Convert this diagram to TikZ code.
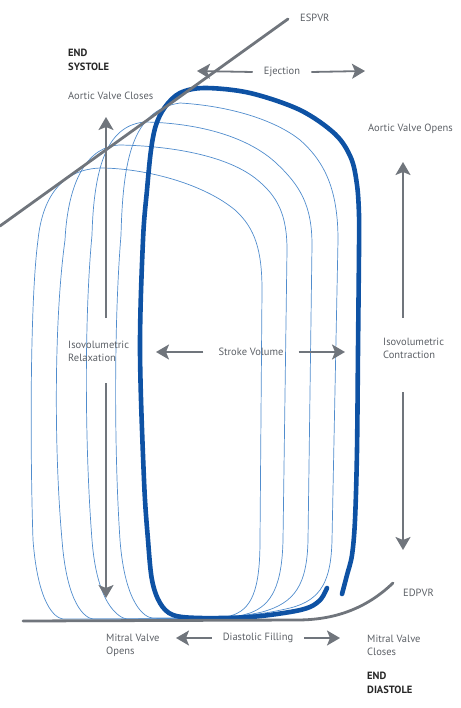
\documentclass[tikz,border=0pt]{standalone}
\usepackage{fontspec}
\setsansfont{PT Sans}
\usepackage{xcolor}
\usepackage{tikz}
\usetikzlibrary{arrows.meta,positioning,calc}
\definecolor{pvblue}{RGB}{14,82,164}
\definecolor{pvthin}{RGB}{80,140,205}
\definecolor{pvgray}{RGB}{112,117,124}
\definecolor{txtgray}{RGB}{92,96,102}
\tikzset{
  mainloop/.style={draw=pvblue, line width=4.6pt, line cap=round, line join=round},
  thinloop/.style={draw=pvthin, line width=0.7pt},
  pvline/.style={draw=pvgray, line width=2.8pt, line cap=round},
  arr/.style={draw=pvgray, line width=1.8pt, -{Stealth[length=13pt,width=15pt,inset=3pt]}},
  lbl/.style={font=\sffamily\fontsize{10.5}{13}\selectfont, text=txtgray, inner sep=0pt, align=left},
  phase/.style={font=\sffamily\bfseries\fontsize{10.5}{14}\selectfont, text=black!85, inner sep=0pt, align=left}
}

\begin{document}
\begin{tikzpicture}[x=1pt, y=-1pt]
  \useasboundingbox (0,0) rectangle (460,708);
  % thin loops
  \draw[thinloop] (153,618) .. controls (145,618) and (125,605) .. (120,540)
    .. controls (114,450) and (114,320) .. (121,235)
    .. controls (123,160) and (132,110) .. (180,103)
    .. controls (230,106) and (275,120) .. (300,140)
    .. controls (325,162) and (338,190) .. (338,240)
    -- (332,540) .. controls (331,580) and (322,600) .. (290,608)
    .. controls (265,614) and (240,617) .. (200,618) -- cycle;
  \draw[thinloop] (127,619) .. controls (119,618) and (97,605) .. (92,540)
    .. controls (85,450) and (84,320) .. (92,235)
    .. controls (94,160) and (110,125) .. (145,122)
    .. controls (195,123) and (245,135) .. (275,162)
    .. controls (300,185) and (312,205) .. (312,245)
    -- (308,540) .. controls (307,585) and (295,603) .. (262,612)
    .. controls (245,616) and (225,618) .. (200,618) -- cycle;
  \draw[thinloop] (93,619) .. controls (85,618) and (67,605) .. (62,540)
    .. controls (54,450) and (54,320) .. (65,240)
    .. controls (68,180) and (88,146) .. (120,145)
    .. controls (170,146) and (225,155) .. (255,178)
    .. controls (278,196) and (287,215) .. (287,250)
    -- (283,540) .. controls (282,585) and (272,605) .. (250,613)
    .. controls (238,617) and (220,619) .. (195,619) -- cycle;
  \draw[thinloop] (63,619) .. controls (55,618) and (38,605) .. (33,540)
    .. controls (30,450) and (30,300) .. (38,240)
    .. controls (42,200) and (60,168) .. (103,168)
    .. controls (150,169) and (205,185) .. (235,210)
    .. controls (255,228) and (262,250) .. (262,290)
    -- (260,540) .. controls (260,590) and (252,610) .. (230,616)
    .. controls (220,618) and (205,619) .. (185,619) -- cycle;
  % main loop
  \draw[mainloop] plot[smooth, tension=0.55] coordinates {(342,594) (347,575) (352,555) (355,520) (357,450) (358,350) (359,250) (359,215) (357,185) (351,158) (335,134) (300,110) (250,93) (205,88) (180,93) (165,107) (156,125) (151,150) (147,190) (143,240) (140,350) (144,480) (148,540) (152,580) (160,603) (173,615) (200,618) (250,617) (290,612) (310,607) (321,599) (327,588)};

  % ESPVR / EDPVR
  \coordinate (es0) at (0,226);
  \coordinate (es1) at (288,19);
  \draw[pvline] (es0) -- (es1);
  \coordinate (ed0) at (23,621);
  \coordinate (ed1) at (297,620);
  \coordinate (ed2) at (393,583);
  \draw[pvline] (ed0) -- (ed1) .. controls (340,620) and (370,605) .. (ed2);

  % labels
  \node[lbl, anchor=west] (espvr) at (300,18) {ESPVR};
  \node[phase, anchor=west] (endsys) at (68,60) {END\\SYSTOLE};
  \node[lbl, inner xsep=11pt] (eject) at (282,72) {Ejection};
  \node[lbl, anchor=west] (avc) at (68,96) {Aortic Valve Closes};
  \node[lbl, anchor=west] (avo) at (368,129) {Aortic Valve Opens};
  \node[lbl, anchor=west] (ivr) at (68,351) {Isovolumetric\\Relaxation};
  \node[lbl, inner xsep=15pt] (sv) at (251,352) {Stroke Volume};
  \node[lbl, anchor=west] (ivc) at (383,348) {Isovolumetric\\Contraction};
  \node[lbl, anchor=west] (edpvr) at (403,593) {EDPVR};
  \node[lbl, anchor=west] (mvo) at (106,645) {Mitral Valve\\Opens};
  \node[lbl, inner xsep=11pt] (df) at (258,638) {Diastolic Filling};
  \node[lbl, anchor=west] (mvc) at (367,645) {Mitral Valve\\Closes};
  \node[phase, anchor=west] (enddia) at (367,683) {END\\DIASTOLE};

  % arrows
  \coordinate (ejL) at (197,71);
  \coordinate (ejR) at (365,71);
  \draw[arr] (eject.west) -- (ejL);
  \draw[arr] (eject.east) -- (ejR);
  \coordinate (svL) at (156,352);
  \coordinate (svR) at (345,352);
  \draw[arr] (sv.west) -- (svL);
  \draw[arr] (sv.east) -- (svR);
  \coordinate (dfL) at (176,638);
  \coordinate (dfR) at (340,638);
  \draw[arr] (df.west) -- (dfL);
  \draw[arr] (df.east) -- (dfR);
  \coordinate (ivrA) at (106,318);
  \coordinate (ivrB) at (106,117);
  \coordinate (ivrC) at (106,383);
  \coordinate (ivrD) at (106,598);
  \draw[arr] (ivrA) -- (ivrB);
  \draw[arr] (ivrC) -- (ivrD);
  \coordinate (ivcA) at (403,318);
  \coordinate (ivcB) at (403,162);
  \coordinate (ivcC) at (403,392);
  \coordinate (ivcD) at (403,550);
  \draw[arr] (ivcA) -- (ivcB);
  \draw[arr] (ivcC) -- (ivcD);
\end{tikzpicture}
\end{document}
